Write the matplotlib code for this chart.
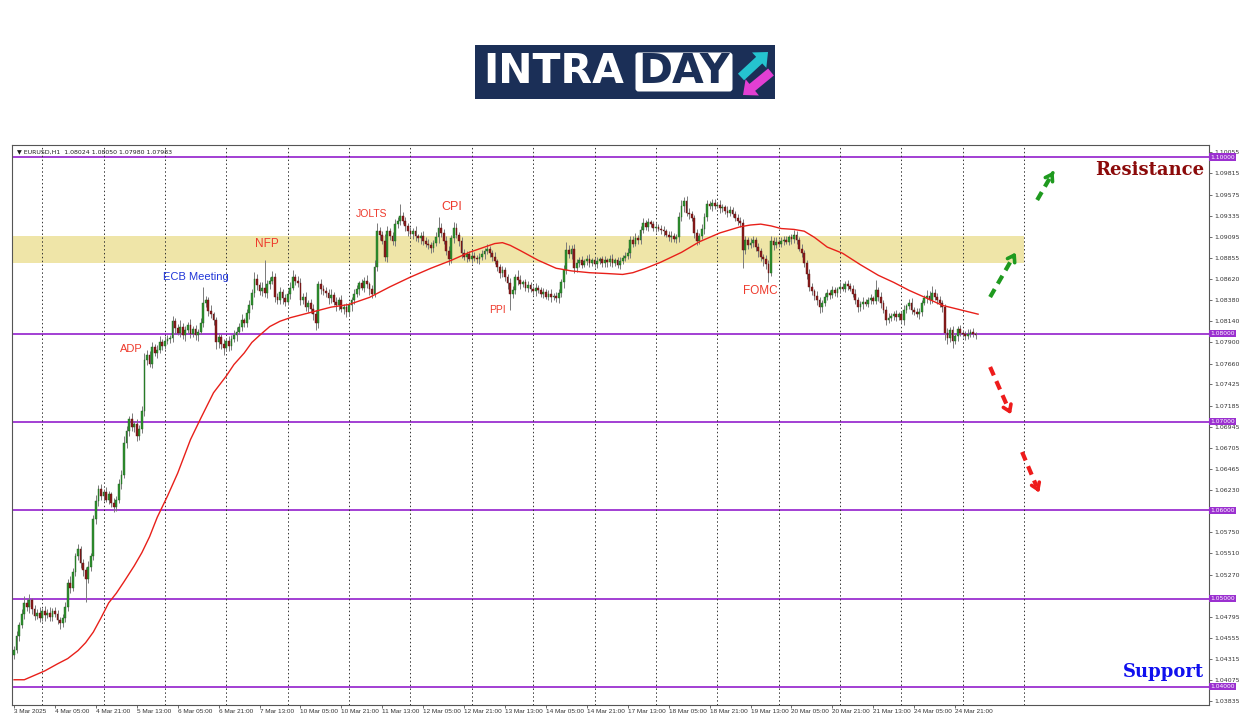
import matplotlib
matplotlib.use("Agg")
import matplotlib.pyplot as plt
import matplotlib.patches as mpatches
from matplotlib.transforms import blended_transform_factory
import numpy as np
import pandas as pd

# EURUSD H1 closes in pips (10442 -> 1.0442), rows of ~10 bars, 3 Mar 13:00 .. 25 Mar 05:00
closes = [
    10442, 10458, 10470, 10482, 10495, 10490, 10498, 10488, 10480, 10484,
    10478, 10486, 10481, 10484, 10479, 10486, 10482, 10476, 10472, 10478,
    10490, 10518, 10512, 10530, 10548, 10556, 10540, 10532, 10522, 10536,
    10548, 10590, 10610, 10624, 10616, 10621, 10612, 10618, 10608, 10604,
    10612, 10630, 10640, 10676, 10690, 10703, 10694, 10698, 10684, 10692,
    10712, 10770, 10776, 10766, 10785, 10778, 10782, 10790, 10786, 10792, 10794,
    10795, 10814, 10806, 10801, 10808, 10798, 10804, 10810, 10800, 10805,
    10798, 10802, 10812, 10835, 10838, 10826, 10822, 10815, 10790, 10796,
    10788, 10784, 10792, 10786, 10794, 10798, 10802, 10808, 10815, 10812,
    10823, 10832, 10846, 10862, 10855, 10848, 10852, 10846, 10856, 10860,
    10864, 10842, 10838, 10847, 10840, 10836, 10845, 10852, 10864, 10860,
    10857, 10838, 10842, 10830, 10835, 10828, 10822, 10812, 10856, 10850, 10848,
    10846, 10840, 10844, 10836, 10832, 10838, 10828, 10830, 10824, 10832,
    10838, 10845, 10850, 10857, 10852, 10860, 10856, 10850, 10845, 10876,
    10916, 10912, 10905, 10887, 10916, 10910, 10905, 10924, 10928, 10933,
    10928, 10922, 10916, 10913, 10916, 10910, 10908, 10911, 10905, 10902,
    10900, 10897, 10903, 10909, 10920, 10914, 10905, 10894, 10884, 10908,
    10920, 10912, 10905, 10891, 10887, 10890, 10885, 10888, 10886, 10884, 10887,
    10890, 10893, 10896, 10891, 10887, 10882, 10875, 10869, 10872, 10864,
    10857, 10845, 10849, 10864, 10861, 10856, 10858, 10852, 10855, 10850,
    10848, 10852, 10849, 10845, 10847, 10842, 10845, 10841, 10843, 10840,
    10846, 10858, 10872, 10895, 10890, 10896, 10874, 10880, 10883, 10878,
    10882, 10885, 10880, 10883, 10879, 10882, 10884, 10880, 10883, 10881,
    10885, 10880, 10883, 10878, 10882, 10886, 10888, 10891, 10906, 10902, 10908,
    10906, 10917, 10925, 10921, 10926, 10924, 10920, 10921, 10919, 10917,
    10916, 10912, 10909, 10911, 10907, 10909, 10932, 10944, 10950, 10937,
    10935, 10931, 10914, 10905, 10910, 10918, 10932, 10947, 10944, 10948,
    10945, 10946, 10942, 10943, 10939, 10937, 10940, 10935, 10931, 10928,
    10925, 10895, 10906, 10900, 10903, 10906, 10898, 10893, 10887, 10884,
    10879, 10869, 10905, 10900, 10904, 10902, 10905, 10906, 10904, 10909, 10907,
    10912, 10906, 10896, 10891, 10880, 10868, 10853, 10848, 10843, 10838,
    10830, 10835, 10841, 10846, 10844, 10849, 10846, 10850, 10853, 10851,
    10856, 10854, 10851, 10845, 10838, 10830, 10833, 10836, 10834, 10838,
    10840, 10837, 10849, 10842, 10835, 10827, 10815, 10818, 10820, 10822,
    10819, 10822, 10815, 10827, 10831, 10835, 10827, 10825, 10822, 10824,
    10835, 10840, 10843, 10838, 10846, 10842, 10838, 10835, 10830, 10801, 10795,
    10804, 10792, 10797, 10805, 10801, 10799, 10797, 10800, 10802, 10799,
    10798,
]
first_open = 10436

# wick lengths in pips above / below the body
wick_up = [
    4, 5, 3, 6, 8, 4, 7, 3, 5, 4,
    6, 3, 5, 4, 6, 3, 4, 5, 3, 5,
    6, 4, 8, 5, 4, 6, 3, 5, 4, 6,
    3, 5, 7, 4, 6, 3, 5, 4, 3, 6,
    4, 5, 6, 8, 5, 4, 7, 3, 5, 4,
    6, 8, 5, 4, 6, 3, 5, 7, 4, 5, 4,
    3, 6, 4, 5, 7, 4, 5, 3, 6, 4,
    5, 3, 6, 18, 5, 4, 6, 3, 4, 5,
    4, 6, 3, 5, 4, 6, 5, 4, 7, 3,
    5, 6, 4, 8, 5, 4, 6, 31, 5, 4,
    7, 5, 4, 6, 3, 5, 4, 7, 8, 4,
    5, 6, 4, 5, 3, 4, 6, 5, 4, 6, 5,
    5, 4, 6, 3, 5, 4, 6, 3, 5, 4,
    4, 6, 5, 3, 5, 4, 6, 3, 5, 7,
    9, 5, 4, 8, 6, 4, 5, 6, 4, 14,
    5, 4, 3, 5, 4, 6, 3, 4, 5, 4,
    5, 4, 3, 6, 12, 5, 4, 6, 5, 4,
    6, 5, 3, 4, 5, 3, 4, 5, 4, 3, 4,
    5, 4, 6, 3, 4, 5, 3, 4, 5, 3,
    4, 6, 5, 4, 8, 5, 3, 4, 5, 3,
    4, 5, 3, 4, 5, 3, 4, 5, 3, 4,
    5, 4, 6, 9, 5, 4, 6, 5, 4, 5,
    3, 4, 5, 3, 4, 5, 3, 4, 5, 3,
    4, 5, 3, 4, 5, 3, 4, 6, 5, 4, 6,
    4, 5, 6, 4, 5, 3, 4, 5, 3, 4,
    5, 3, 4, 5, 3, 4, 6, 7, 5, 6,
    5, 4, 3, 5, 4, 6, 5, 4, 3, 5,
    4, 3, 5, 4, 3, 5, 4, 3, 4, 5,
    4, 5, 4, 3, 5, 4, 3, 5, 4, 3,
    5, 4, 6, 4, 5, 3, 4, 4, 5, 3, 4,
    5, 4, 3, 5, 4, 3, 5, 4, 3, 5,
    4, 3, 5, 4, 3, 5, 4, 3, 5, 4,
    4, 5, 3, 4, 5, 3, 4, 5, 3, 4,
    5, 3, 12, 4, 5, 3, 4, 5, 3, 4,
    5, 3, 4, 5, 3, 4, 5, 3, 4, 5,
    3, 4, 6, 5, 8, 4, 4, 5, 3, 4, 5,
    4, 5, 3, 4, 5, 3, 4, 5, 3, 4,
    3,
]
wick_dn = [
    5, 4, 6, 3, 5, 4, 6, 5, 4, 3,
    5, 4, 6, 3, 5, 4, 3, 5, 6, 4,
    5, 4, 6, 3, 5, 4, 5, 6, 26, 4,
    5, 4, 6, 5, 4, 6, 3, 5, 4, 6,
    5, 4, 6, 3, 5, 6, 4, 5, 6, 4,
    5, 5, 6, 4, 5, 3, 6, 4, 5, 3, 4,
    5, 4, 6, 3, 5, 4, 6, 3, 5, 4,
    5, 6, 3, 4, 5, 6, 4, 5, 7, 6,
    5, 8, 4, 6, 5, 4, 6, 3, 5, 4,
    5, 6, 4, 5, 6, 4, 5, 4, 6, 5,
    4, 6, 5, 4, 6, 5, 4, 6, 3, 5,
    4, 6, 5, 4, 6, 5, 7, 8, 6, 5, 4,
    4, 6, 5, 4, 6, 5, 4, 6, 5, 4,
    6, 5, 4, 6, 3, 5, 4, 6, 5, 4,
    5, 6, 4, 5, 6, 4, 5, 6, 4, 5,
    4, 6, 5, 4, 6, 5, 4, 6, 5, 4,
    4, 6, 5, 4, 6, 5, 4, 5, 6, 4,
    5, 4, 6, 5, 4, 6, 3, 5, 4, 4, 5,
    4, 5, 3, 4, 5, 3, 4, 6, 5, 4,
    6, 18, 5, 4, 6, 5, 3, 4, 5, 3,
    4, 5, 3, 4, 5, 3, 4, 5, 3, 4,
    5, 4, 6, 5, 4, 6, 5, 4, 5, 4,
    3, 4, 5, 3, 4, 5, 3, 4, 5, 6,
    4, 5, 3, 4, 5, 3, 4, 4, 5, 4, 3,
    4, 5, 3, 4, 5, 3, 4, 5, 3, 4,
    5, 3, 4, 5, 3, 4, 5, 4, 6, 4,
    5, 4, 6, 5, 4, 3, 5, 4, 3, 5,
    4, 3, 5, 4, 3, 5, 4, 3, 4, 5,
    4, 21, 5, 4, 3, 5, 4, 6, 5, 7,
    6, 10, 4, 5, 3, 4, 4, 5, 3, 4, 5,
    4, 5, 3, 4, 5, 6, 5, 4, 5, 6,
    7, 5, 4, 3, 5, 4, 3, 5, 4, 3,
    4, 5, 3, 4, 5, 6, 4, 5, 3, 4,
    5, 3, 4, 5, 6, 4, 5, 3, 4, 5,
    5, 4, 3, 5, 4, 3, 5, 4, 3, 5,
    4, 3, 5, 4, 3, 4, 4, 5, 6, 8, 7,
    5, 8, 4, 5, 4, 3, 4, 3, 4, 3,
    4,
]

ma_bar = [0, 4, 8, 12, 17, 21, 25, 28, 31, 34, 37, 40, 43, 47, 50, 53, 56, 60,
          64, 69, 73, 78, 83, 86, 90, 93, 96, 100, 104, 108, 116, 124, 131, 139,
          147, 155, 163, 171, 178, 184, 188, 191, 194, 198, 205, 212, 218, 225,
          232, 238, 242, 247, 253, 261, 268, 276, 284, 288, 292, 296, 300, 305,
          309, 313, 318, 324, 331, 338, 344, 350, 357, 363, 370, 377]
ma_val = [10408, 10408, 10413, 10418, 10426, 10432, 10441, 10450, 10462, 10478,
          10495, 10506, 10519, 10537, 10552, 10570, 10592, 10616, 10642, 10680,
          10704, 10733, 10752, 10765, 10778, 10790, 10798, 10808, 10814, 10818,
          10824, 10830, 10833, 10841, 10853, 10864, 10874, 10883, 10892, 10898,
          10902, 10903, 10900, 10894, 10883, 10874, 10871, 10869, 10868, 10867,
          10869, 10874, 10881, 10892, 10904, 10914, 10921, 10923, 10924, 10922,
          10919, 10918, 10916, 10909, 10898, 10891, 10878, 10866, 10858, 10849,
          10840, 10832, 10827, 10822]

levels = [1.1000, 1.0800, 1.0700, 1.0600, 1.0500, 1.0400]
zone = [1.0880, 1.0910]
price_ticks = [1.10055, 1.09815, 1.09575, 1.09335, 1.09095, 1.08855, 1.08620,
               1.08380, 1.08140, 1.07900, 1.07660, 1.07425, 1.07185, 1.06945,
               1.06705, 1.06465, 1.06230, 1.05750, 1.05510, 1.05270, 1.04795,
               1.04555, 1.04315, 1.04075, 1.03835]

events = ["ADP", "ECB Meeting", "NFP", "JOLTS", "CPI", "PPI", "FOMC"]
event_colors = ["#ee3a2c", "#1f35d8", "#ee3a2c", "#ee3a2c", "#ee3a2c", "#ee3a2c", "#ee3a2c"]
event_at = [(46, 1.0783), (71, 1.0864), (99, 1.0902), (140, 1.0936),
            (171, 1.0943), (189, 1.0827), (292, 1.0848)]
event_size = [8, 8, 8.5, 7.5, 9, 7.5, 8.5]

header = "\u25bc EURUSD,H1  1.08024 1.08050 1.07980 1.07983"

times = pd.date_range("2025-03-03 13:00", "2025-03-25 05:00", freq="h")
times = times[times.dayofweek < 5]
assert len(times) == len(closes) == len(wick_up) == len(wick_dn)

c = np.array(closes) / 10000
o = np.r_[first_open, closes[:-1]] / 10000
hi = np.maximum(o, c) + np.array(wick_up) / 10000
lo = np.minimum(o, c) - np.array(wick_dn) / 10000
x = np.arange(len(c))
up = c >= o

fig = plt.figure(figsize=(12.5, 7.16), dpi=100)
fig.patch.set_facecolor("white")
ax = fig.add_axes([12 / 1250, 1 - 705 / 716, 1197 / 1250, 560 / 716])
ax.set_xlim(-0.8, 467.3)
ax.set_ylim(1.03794, 1.10136)

# support / resistance zone and levels
ax.fill_between([-0.8, 395], zone[0], zone[1], color="#efe5a8", lw=0, zorder=0)
for lv in levels:
    ax.axhline(lv, color="#9b30d0", lw=1.3, zorder=1)

# daily separators
grid_bars = [i for i, t in enumerate(times) if t.hour == 0]
grid_bars.append(grid_bars[-1] + 24)
for g in grid_bars:
    ax.axvline(g, color="#333333", lw=0.7, ls=(0, (1.5, 2.5)), zorder=1)

# candles
ax.vlines(x, lo, hi, color="#7a7a7a", lw=0.7, zorder=2)
body = np.maximum(np.abs(c - o), 0.00003)
ax.bar(x[up], body[up], bottom=o[up], width=0.7, color="#2f922f",
       edgecolor="#1d5f1d", lw=0.3, zorder=3)
ax.bar(x[~up], body[~up], bottom=c[~up], width=0.7, color="#8b1c1c",
       edgecolor="#5e1010", lw=0.3, zorder=3)

ax.plot(ma_bar, np.array(ma_val) / 10000, color="#e8201a", lw=1.0, zorder=4)

for name, col, (bx, py), fs in zip(events, event_colors, event_at, event_size):
    ax.text(bx, py, name, color=col, fontsize=fs, ha="center", va="center",
            family="Liberation Sans", zorder=5)

ax.text(465.5, 1.09853, "Resistance", color="#8b0a0a", fontsize=13,
        fontweight="bold", family="DejaVu Serif", ha="right", va="center")
ax.text(465.5, 1.04167, "Support", color="#1010ee", fontsize=13,
        fontweight="bold", family="DejaVu Serif", ha="right", va="center")

# scenario arrows
arrows = [((381.7, 1.08414), (392.3, 1.08947), "#1f9a1f"),
          ((400.1, 1.09513), (407.1, 1.09864), "#1f9a1f"),
          ((381.7, 1.07622), (390.3, 1.07056), "#ee1b1b"),
          ((394.2, 1.06659), (401.3, 1.06172), "#ee1b1b")]
for (x0, y0), (x1, y1), col in arrows:
    xm = x0 + (x1 - x0) * 0.8
    ym = y0 + (y1 - y0) * 0.8
    ax.plot([x0, xm], [y0, ym], color=col, lw=3, ls=(0, (2.2, 1.5)),
            solid_capstyle="butt", zorder=5)
    ax.annotate("", xy=(x1, y1), xytext=(xm, ym),
                arrowprops=dict(arrowstyle="->,head_length=0.45,head_width=0.3",
                                color=col, lw=2.6), zorder=5)

# axes styling (MT4 look)
for s in ax.spines.values():
    s.set_color("#555555")
    s.set_linewidth(0.8)
ax.yaxis.tick_right()
ax.set_yticks(price_ticks)
ax.set_yticklabels([f"{p:.5f}" for p in price_ticks])
ax.tick_params(axis="y", length=2, width=0.5, labelsize=4.5, pad=1.5, colors="#333333")

label_bars = [0] + list(range(16, len(times), 16))
label_txt = ["3 Mar 2025"] + [f"{times[i].day} {times[i]:%b %H:%M}" for i in label_bars[1:]]
ax.set_xticks(label_bars)
ax.set_xticklabels(label_txt, ha="left", family="Liberation Sans")
ax.tick_params(axis="x", length=2, width=0.5, labelsize=4.6, pad=1, colors="#333333")

tr = blended_transform_factory(ax.transAxes, ax.transData)
for lv in levels:
    ax.text(1.0012, lv, f"{lv:.5f}", transform=tr, fontsize=4.3, color="white",
            ha="left", va="center", clip_on=False, zorder=6,
            bbox=dict(boxstyle="square,pad=0.18", fc="#9b30d0", ec="none"))

ax.text(0.004, 0.993, header, transform=ax.transAxes, fontsize=4.5,
        color="#222222", ha="left", va="top")

# logo
lg = fig.add_axes([475 / 1250, 1 - 99 / 716, 300 / 1250, 54 / 716])
lg.set_xlim(0, 300)
lg.set_ylim(0, 54)
lg.axis("off")
lg.add_patch(mpatches.Rectangle((0, 0), 300, 54, color="#1b2f57"))
lg.add_patch(mpatches.FancyBboxPatch((162, 9), 94, 36, boxstyle="round,pad=1.5,rounding_size=3",
                                     fc="white", ec="none"))
lg.text(8, 27, "INTRA", color="white", fontsize=29.5, fontweight="bold",
        family="DejaVu Sans", ha="left", va="center")
lg.text(209, 27, "DAY", color="#1b2f57", fontsize=29.5, fontweight="bold",
        family="DejaVu Sans", ha="center", va="center")
lg.add_patch(mpatches.FancyArrow(266, 22, 27, 25, width=9, head_width=21, head_length=12,
                                 length_includes_head=True, color="#25c3cf", lw=0))
lg.add_patch(mpatches.FancyArrow(296, 27, -28, -23, width=9, head_width=21, head_length=12,
                                 length_includes_head=True, color="#e23fd3", lw=0))

fig.savefig("out.png", dpi=100, facecolor="white")
